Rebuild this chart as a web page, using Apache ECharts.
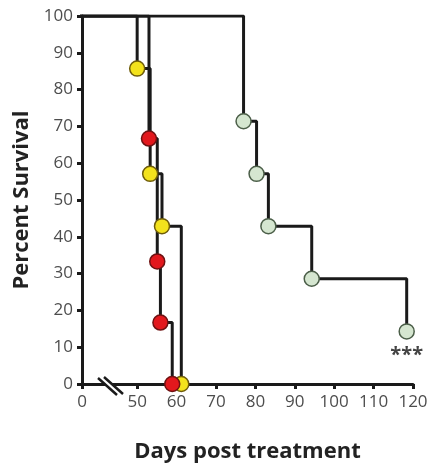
<!DOCTYPE html>
<html>
<head>
<meta charset="utf-8">
<script src="https://cdn.jsdelivr.net/npm/echarts@6/dist/echarts.min.js"></script>
<style>
  html, body { margin: 0; padding: 0; background: #fff; }
  #chart { width: 432px; height: 468px; }
</style>
</head>
<body>
<div id="chart"></div>
<script>
(function () {
    'use strict';

    // Kaplan-Meier steps (day, percent surviving)
    var yellowDays = [0, 50, 53.3, 56.3, 61.2];
    var yellowSurv = [100, 85.7, 57.1, 42.9, 0];
    var redDays = [0, 53, 55.1, 55.9, 58.9];
    var redSurv = [100, 66.7, 33.3, 16.7, 0];
    var greenDays = [0, 77, 80.3, 83.3, 94.3, 118.4];
    var greenSurv = [100, 71.4, 57.1, 42.9, 28.6, 14.3];

    // broken x axis: the left end stands for day 0
    var xStart = 36;
    var xTicks = [36, 50, 60, 70, 80, 90, 100, 110, 120];
    var yTicks = [0, 10, 20, 30, 40, 50, 60, 70, 80, 90, 100];

    var FONT = '"Open Sans", sans-serif';
    var LINE = '#1a1a1a';

    function pairs(days, surv) {
        return days.map(function (d, i) { return [d, surv[i]]; });
    }

    function stepLine(days, surv) {
        return {
            type: 'line',
            step: 'end',
            data: pairs(days, surv),
            showSymbol: false,
            lineStyle: { color: LINE, width: 3 },
            clip: true,
            z: 2,
            silent: true,
            animation: false
        };
    }

    function events(days, surv, fill, border, lastLabel) {
        var pts = pairs(days, surv).slice(1).map(function (p, i, arr) {
            var item = { value: p };
            if (lastLabel && i === arr.length - 1) {
                item.label = {
                    show: true,
                    position: 'bottom',
                    distance: 6,
                    formatter: lastLabel,
                    color: '#444',
                    fontSize: 20,
                    fontWeight: 'bold',
                    fontFamily: FONT
                };
            }
            return item;
        });
        return {
            type: 'scatter',
            data: pts,
            symbol: 'circle',
            symbolSize: 15,
            itemStyle: { color: fill, borderColor: border, borderWidth: 1.5, opacity: 1 },
            z: 3,
            animation: false
        };
    }

    var chart = echarts.init(document.getElementById('chart'));

    chart.setOption({
        backgroundColor: '#fff',
        grid: { left: 82, right: 19, top: 16, bottom: 82 },
        xAxis: {
            type: 'value',
            min: xStart,
            max: 120,
            name: 'Days post treatment',
            nameLocation: 'middle',
            nameGap: 57,
            nameTextStyle: { fontFamily: FONT, fontSize: 22, fontWeight: 'bold', color: '#222' },
            axisLine: { show: true, onZero: false, lineStyle: { color: LINE, width: 3 } },
            axisTick: { show: true, inside: false, length: 5, customValues: xTicks, lineStyle: { color: LINE, width: 3 } },
            axisLabel: {
                customValues: xTicks,
                margin: 10,
                fontFamily: FONT,
                fontSize: 17,
                color: '#4d4d4d',
                formatter: function (v) { return v === xStart ? '0' : String(v); }
            },
            splitLine: { show: false }
        },
        yAxis: {
            type: 'value',
            min: 0,
            max: 100,
            interval: 10,
            name: 'Percent Survival',
            nameLocation: 'middle',
            nameGap: 47,
            nameTextStyle: { fontFamily: FONT, fontSize: 22, fontWeight: 'bold', color: '#222' },
            axisLine: { show: true, lineStyle: { color: LINE, width: 3 } },
            axisTick: { show: true, inside: false, length: 5, lineStyle: { color: LINE, width: 3 } },
            axisLabel: {
                customValues: yTicks,
                margin: 9,
                fontFamily: FONT,
                fontSize: 17,
                color: '#4d4d4d'
            },
            splitLine: { show: false }
        },
        graphic: [
            // axis break mark "//"
            {
                type: 'polygon',
                shape: { points: [[98, 378], [104, 377], [123, 394], [117, 395]] },
                style: { fill: '#fff' },
                z: 10
            },
            {
                type: 'line',
                shape: { x1: 98, y1: 378, x2: 117, y2: 395 },
                style: { stroke: LINE, lineWidth: 2.5 },
                z: 11
            },
            {
                type: 'line',
                shape: { x1: 104, y1: 377, x2: 123, y2: 394 },
                style: { stroke: LINE, lineWidth: 2.5 },
                z: 11
            }
        ],
        series: [
            stepLine(greenDays, greenSurv),
            stepLine(yellowDays, yellowSurv),
            stepLine(redDays, redSurv),
            events(greenDays, greenSurv, '#d5e6d0', '#4b5e48', '***'),
            events(yellowDays, yellowSurv, '#f3e21c', '#6e5c0a'),
            events(redDays, redSurv, '#e2181d', '#6e1111')
        ]
    });
})();
</script>
</body>
</html>
